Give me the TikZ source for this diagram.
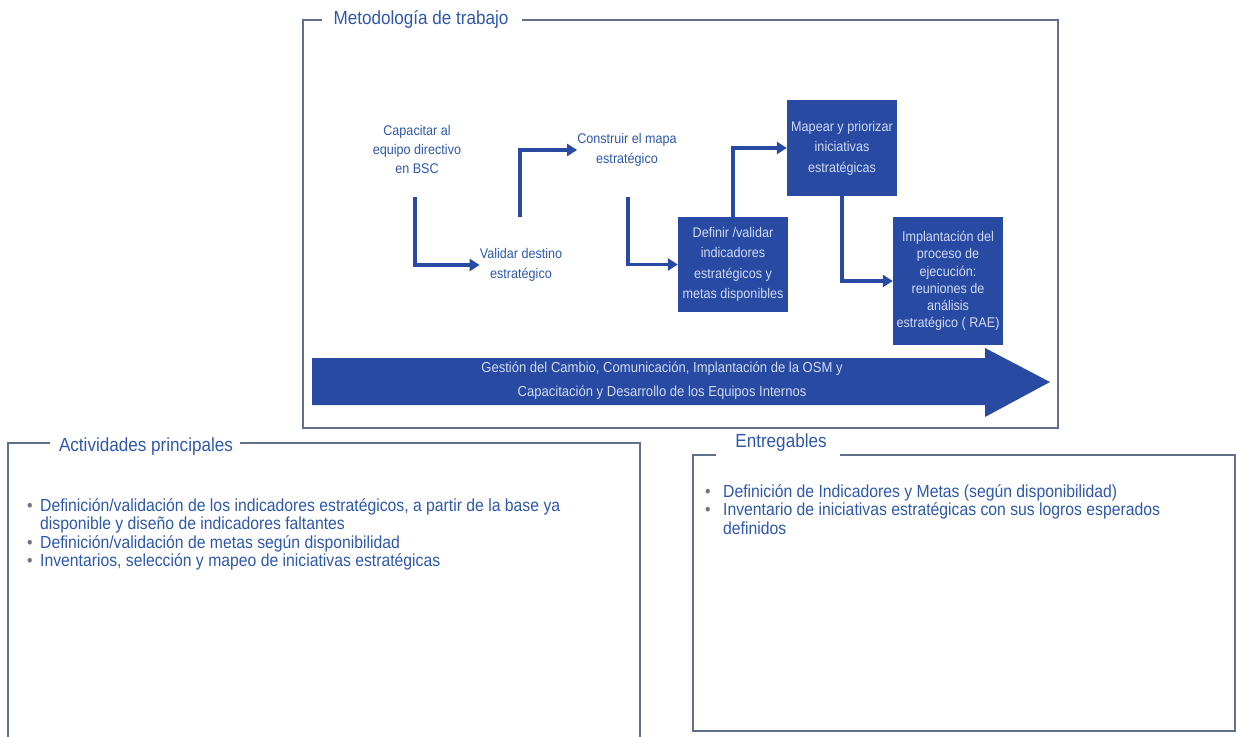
\documentclass[tikz,border=0pt]{standalone}
\usepackage{fontspec}
\setmainfont[FakeStretch=0.9]{Liberation Sans}
\usepackage{tikz}
\usetikzlibrary{
	arrows.meta
}
\definecolor{MetBlue}{RGB}{40,74,163}
\definecolor{TxtBlue}{RGB}{46,88,172}
\definecolor{FrameGray}{RGB}{98,112,138}
\definecolor{BoxTxt}{RGB}{208,218,242}
\definecolor{BulletGray}{RGB}{110,115,135}

\begin{document}
\begin{tikzpicture}[x=1pt, y=-1pt,
		frame/.style={draw=FrameGray, line width=1.2pt},
		titulo/.style={text=TxtBlue, inner sep=0pt, font=\fontsize{19}{21}\selectfont},
		paso/.style={text=TxtBlue, align=center, inner sep=0pt, font=\fontsize{14}{19}\selectfont},
		caja/.style={fill=MetBlue, text=BoxTxt, align=center, minimum width=110pt, inner sep=0pt, font=\fontsize{14}{20.5}\selectfont},
		flujo/.style={draw=MetBlue, line width=3.5pt, -{Triangle[length=10pt,width=12pt]}},
		lista/.style={text=TxtBlue, anchor=north west, inner sep=0pt, font=\fontsize{17.5}{18.5}\selectfont}
	]
	\useasboundingbox (0,0) rectangle (1236,736);
	
	% marcos
	\draw[frame] (322,20) -| (303,428) -| (1058,20) -- (522,20);
	\draw[frame] (50,443) -| (8,740) (640,740) |- (240,443);
	\draw[frame] (716,455) -| (693,731) -| (1235,455) -- (840,455);
	
	\node[titulo] (metodo) at (421,19) {Metodología de trabajo};
	\node[titulo] (activ) at (146,447) {Actividades principales};
	\node[titulo] (entreg) at (781,443) {Entregables};
	
	% pasos
	\node[paso] (capacitar) at (417,149) {Capacitar al\\equipo directivo\\en BSC};
	\node[paso, font=\fontsize{14}{20}\selectfont] (validar) at (521,265) {Validar destino\\estratégico};
	\node[paso, font=\fontsize{14}{20}\selectfont] (construir) at (627,150) {Construir el mapa\\estratégico};
	\node[caja, minimum height=95pt] (definir) at (733,264.5) {Definir /validar\\indicadores\\estratégicos y\\metas disponibles};
	\node[caja, minimum height=96pt] (mapear) at (842,148) {Mapear y priorizar\\iniciativas\\estratégicas};
	\node[caja, minimum height=128pt, font=\fontsize{14}{17.3}\selectfont] (rae) at (948,281) {Implantación del\\proceso de\\ejecución:\\reuniones de\\análisis\\estratégico ( RAE)};
	
	\coordinate (c1) at (415,197);
	\coordinate (c2) at (520,217);
	\coordinate (c3) at (628,197);
	
	\draw[flujo] (c1) |- (validar.west);
	\draw[flujo] (c2) |- (construir.west);
	\draw[flujo] (c3) |- (definir.west);
	\draw[flujo] (definir.north) |- (mapear.west);
	\draw[flujo] (mapear.south) |- (rae.west);
	
	% flecha de gestion del cambio
	\fill[MetBlue] (312,358) -- (985,358) -- (985,348) -- (1050,382) -- (985,417) -- (985,405) -- (312,405) -- cycle;
	\node[text=BoxTxt, align=center, font=\fontsize{14.5}{24}\selectfont] (cambio) at (662,381) {Gestión del Cambio, Comunicación, Implantación de la OSM y\\Capacitación y Desarrollo de los Equipos Internos};
	
	% listas
	\node[lista] (lact) at (27,498) {\begin{tabular}{@{}p{13pt}@{}l@{}}
		\textcolor{BulletGray}{\textbullet} & Definición/validación de los indicadores estratégicos, a partir de la base ya\\
		 & disponible y diseño de indicadores faltantes\\
		\textcolor{BulletGray}{\textbullet} & Definición/validación de metas según disponibilidad\\
		\textcolor{BulletGray}{\textbullet} & Inventarios, selección y mapeo de iniciativas estratégicas
	\end{tabular}};
	\node[lista] (lent) at (705,484) {\begin{tabular}{@{}p{18pt}@{}l@{}}
		\textcolor{BulletGray}{\textbullet} & Definición de Indicadores y Metas (según disponibilidad)\\
		\textcolor{BulletGray}{\textbullet} & Inventario de iniciativas estratégicas con sus logros esperados\\
		 & definidos
	\end{tabular}};
\end{tikzpicture}
\end{document}
